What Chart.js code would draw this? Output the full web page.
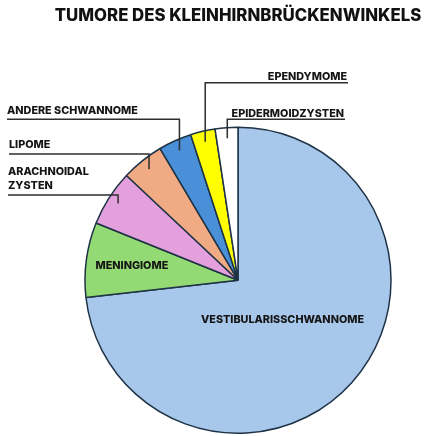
<!DOCTYPE html>
<html lang="de">
<head>
  <meta charset="UTF-8">
  <title>Tumore des Kleinhirnbrückenwinkels</title>
  <script src="https://cdn.jsdelivr.net/npm/chart.js@4.4.1/dist/chart.umd.min.js"></script>
  <style>
    html, body {
      margin: 0;
      padding: 0;
      background: #fff;
    }

    .chart_container {
      width: 434px;
      height: 436px;
    }
  </style>
</head>
<body>
  <div class="chart_container">
    <canvas id="myChart"></canvas>
  </div>

  <script>
    const titleText = 'TUMORE DES KLEINHIRNBRÜCKENWINKELS';
    const categories = ['VESTIBULARISSCHWANNOME', 'MENINGIOME', 'ARACHNOIDAL ZYSTEN', 'LIPOME',
      'ANDERE SCHWANNOME', 'EPENDYMOME', 'EPIDERMOIDZYSTEN'];
    const shares = [73.2, 7.9, 5.9, 4.5, 3.5, 2.6, 2.4];
    const sliceColors = ['#a8c8eb', '#93da74', '#e4a0dd', '#f0ab84', '#4a90d9', '#ffff00', '#ffffff'];

    // where each name goes: inside the slice, or outside with a leader line
    const labelLayout = [
      { inside: true, f: 0.39 },
      { inside: true, f: 0.7 },
      { lines: ['ARACHNOIDAL', 'ZYSTEN'], x: 8, y: 175, lineY: 195, side: 'left' },
      { lines: ['LIPOME'], x: 9, y: 148.3, lineY: 154, side: 'left' },
      { lines: ['ANDERE SCHWANNOME'], x: 7, y: 114.3, lineY: 119.3, side: 'left' },
      { lines: ['EPENDYMOME'], x: 347, y: 80, lineY: 82.7, side: 'right' },
      { lines: ['EPIDERMOIDZYSTEN'], x: 344, y: 116.7, lineY: 119.3, side: 'right' }
    ];

    const labelFont = '800 10.8px Inter';

    const pieLabels = {
      id: 'pieLabels',
      afterDatasetsDraw(chart) {
        const ctx = chart.ctx;
        const arcs = chart.getDatasetMeta(0).data;
        ctx.save();
        ctx.font = labelFont;
        ctx.fillStyle = '#151515';
        arcs.forEach((arc, i) => {
          const lay = labelLayout[i];
          const mid = (arc.startAngle + arc.endAngle) / 2;
          if (lay.inside) {
            const px = arc.x + Math.cos(mid) * arc.outerRadius * lay.f;
            const py = arc.y + Math.sin(mid) * arc.outerRadius * lay.f;
            ctx.textAlign = 'center';
            ctx.textBaseline = 'middle';
            ctx.fillText(categories[i], px, py);
            return;
          }
          const ax = arc.x + Math.cos(mid) * arc.outerRadius * 0.93;
          const ay = arc.y + Math.sin(mid) * arc.outerRadius * 0.93;
          ctx.strokeStyle = '#2e2e2e';
          ctx.lineWidth = 1.5;
          ctx.beginPath();
          if (lay.side === 'left') {
            ctx.moveTo(lay.x, lay.lineY);
          } else {
            ctx.moveTo(lay.x + 1, lay.lineY);
          }
          ctx.lineTo(ax, lay.lineY);
          ctx.lineTo(ax, ay);
          ctx.stroke();

          ctx.textAlign = lay.side === 'left' ? 'left' : 'right';
          ctx.textBaseline = 'alphabetic';
          lay.lines.forEach((t, k) => {
            ctx.fillText(t, lay.x, lay.y + k * 14.3);
          });
        });
        ctx.restore();
      }
    };

    new Chart(document.getElementById('myChart'), {
      type: 'pie',
      data: {
        labels: categories,
        datasets: [{
          data: shares,
          backgroundColor: sliceColors,
          borderColor: '#1f3346',
          borderWidth: 1.5
        }]
      },
      options: {
        responsive: true,
        maintainAspectRatio: false,
        animation: false,
        layout: {
          padding: { left: 42, right: 0, top: 0, bottom: 2 }
        },
        plugins: {
          legend: { display: false },
          tooltip: { enabled: false },
          title: {
            display: true,
            text: titleText,
            color: '#111',
            font: { family: 'Inter', size: 16.8, weight: '800' },
            padding: { top: 6, bottom: 100.3 }
          }
        }
      },
      plugins: [pieLabels]
    });
  </script>
</body>
</html>
